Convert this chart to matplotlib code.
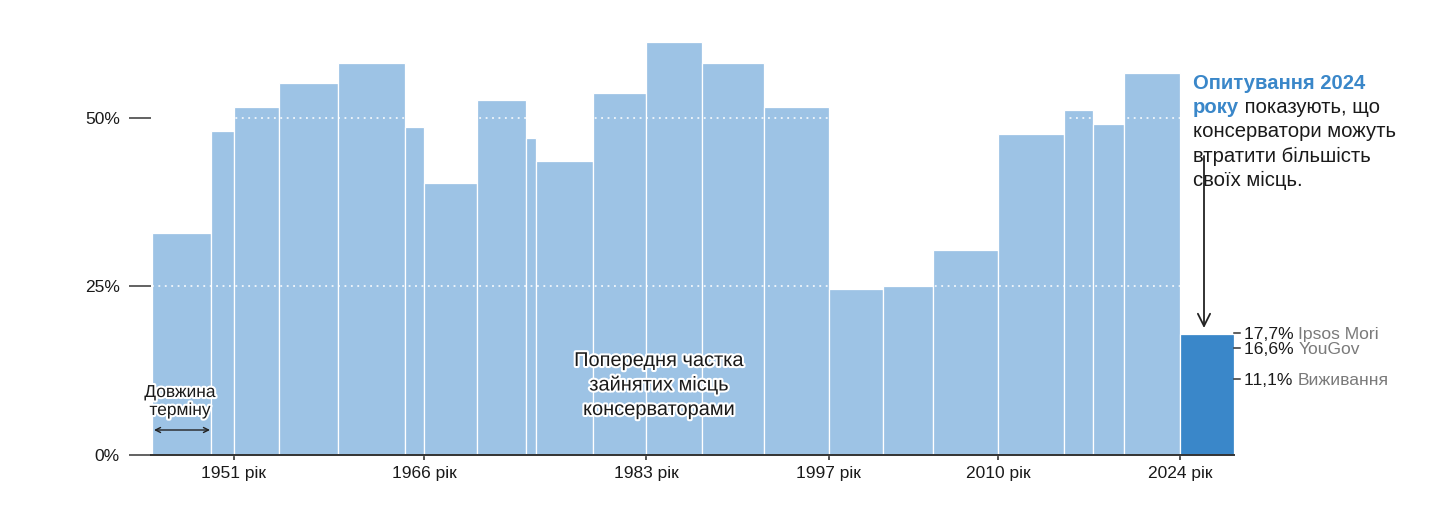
import matplotlib
matplotlib.use('Agg')
import matplotlib.pyplot as plt
import matplotlib.patheffects as pe

plt.rcParams['font.family'] = ['Liberation Sans', 'DejaVu Sans']

# ---------------- data ----------------
election_dates = [1945.60, 1950.13, 1951.90, 1955.35, 1959.88, 1965.00, 1966.48,
                  1970.55, 1974.31, 1975.07, 1979.45, 1983.52, 1987.81, 1992.57,
                  1997.56, 2001.70, 2005.54, 2010.53, 2015.59, 2017.82, 2020.20,
                  2024.50]
seat_share = [32.9, 48.1, 51.7, 55.2, 58.2, 48.6, 40.3, 52.7, 47.1, 43.6, 53.7,
              61.2, 58.2, 51.7, 24.7, 25.1, 30.4, 47.6, 51.2, 49.1, 56.7]
projection_end = 2028.65
poll_values = [17.7, 16.6, 11.1]
poll_numbers = ['17,7%', '16,6%', '11,1%']
poll_sources = ['Ipsos Mori', 'YouGov', 'Виживання']
tick_years = [1951.90, 1966.48, 1983.52, 1997.56, 2010.53, 2024.50]
tick_labels = ['1951 рік', '1966 рік', '1983 рік', '1997 рік', '2010 рік', '2024 рік']
y_ticks = [0, 25, 50]
y_tick_labels = ['0%', '25%', '50%']

# ---------------- style ----------------
LIGHT = '#9dc3e5'
DARK = '#3a87c9'
TXT = '#1a1a1a'
GREY = '#7a7a7a'
W, H = 1437, 514

fig = plt.figure(figsize=(W / 100, H / 100), dpi=100)
ax_l, ax_r, ax_b, ax_t = 151, 1234, 455, 0
ax = fig.add_axes([ax_l / W, (H - ax_b) / H, (ax_r - ax_l) / W, (ax_b - ax_t) / H])
ax.set_xlim(1945.53, projection_end)
ax.set_ylim(0, 67.5)

def fx(px):
    return px / W

def fy(py):
    return 1 - py / H

# bars
lefts = election_dates[:-1]
widths = [b - a for a, b in zip(election_dates[:-1], election_dates[1:])]
ax.bar(lefts, seat_share, width=widths, align='edge', color=LIGHT,
       edgecolor='white', linewidth=0.9, clip_on=False, zorder=2)
ax.bar([election_dates[-1]], [poll_values[0] + 0.2], width=[projection_end - election_dates[-1]],
       align='edge', color=DARK, edgecolor='white', linewidth=0.9, clip_on=False, zorder=2)

# dotted white gridlines over bars
ax.hlines([25, 50], election_dates[0], election_dates[-1], colors='white',
          linestyles=(0, (1.2, 3)), linewidth=1.1, zorder=3)

# axes styling
for s in ['top', 'right', 'left']:
    ax.spines[s].set_visible(False)
ax.spines['bottom'].set_color('#333333')
ax.spines['bottom'].set_linewidth(1.4)
ax.set_yticks(y_ticks)
ax.set_yticklabels(y_tick_labels)
ax.tick_params(axis='y', length=16, width=1.3, color='#555555', pad=6.5,
               labelsize=12.5, labelcolor=TXT)
ax.set_xticks(tick_years)
ax.set_xticklabels(tick_labels)
ax.tick_params(axis='x', length=3.5, width=1.2, color='#333333', pad=4.5,
               labelsize=12.5, labelcolor=TXT)

halo = [pe.withStroke(linewidth=3, foreground='white')]

# "term length" annotation
fig.text(fx(180), fy(397), 'Довжина', ha='center', va='baseline', fontsize=12.5,
         color=TXT, path_effects=halo)
fig.text(fx(180), fy(415), 'терміну', ha='center', va='baseline', fontsize=12.5,
         color=TXT, path_effects=halo)
ax.annotate('', xy=(fx(210), fy(430)), xytext=(fx(154), fy(430)),
            xycoords='figure fraction', textcoords='figure fraction',
            arrowprops=dict(arrowstyle='<->', lw=1.0, color='#222222',
                            mutation_scale=9, shrinkA=0, shrinkB=0))

# central label
for i, line in enumerate(['Попередня частка', 'зайнятих місць', 'консерваторами']):
    fig.text(fx(659), fy(366 + 24.5 * i), line, ha='center', va='baseline',
             fontsize=14.4, color=TXT, path_effects=halo)

# right annotation with mixed styles
fig.canvas.draw()
renderer = fig.canvas.get_renderer()

def rich_line(x, y, parts, size):
    for txt, color, weight in parts:
        t = fig.text(fx(x), fy(y), txt, ha='left', va='baseline', fontsize=size,
                     color=color, fontweight=weight)
        bb = t.get_window_extent(renderer=renderer)
        x += bb.width

ann_x = 1193
lines = [
    [('Опитування 2024', DARK, 'bold')],
    [('року', DARK, 'bold'), (' показують, що', TXT, 'normal')],
    [('консерватори можуть', TXT, 'normal')],
    [('втратити більшість', TXT, 'normal')],
    [('своїх місць.', TXT, 'normal')],
]
for i, parts in enumerate(lines):
    rich_line(ann_x, 89 + 24.2 * i, parts, 14.6)

ax.annotate('', xy=(fx(1204), fy(328)), xytext=(fx(1204), fy(156)),
            xycoords='figure fraction', textcoords='figure fraction',
            arrowprops=dict(arrowstyle='->', lw=1.3, color='#222222',
                            mutation_scale=22, shrinkA=0, shrinkB=0))

# poll labels on the right
label_offsets_px = [-2.7, 4.9, -1.2]
for val, num, src, off in zip(poll_values, poll_numbers, poll_sources, label_offsets_px):
    ypx = ax.transData.transform((projection_end, val))[1]
    ypx = H - ypx + off
    fig.add_artist(plt.Line2D([fx(1234), fx(1240)], [fy(ypx), fy(ypx)],
                              color='#333333', lw=1.1))
    rich_line(1244, ypx + 6, [(num + ' ', TXT, 'normal'), (src, GREY, 'normal')], 12.6)

fig.savefig('out.png', dpi=100)
